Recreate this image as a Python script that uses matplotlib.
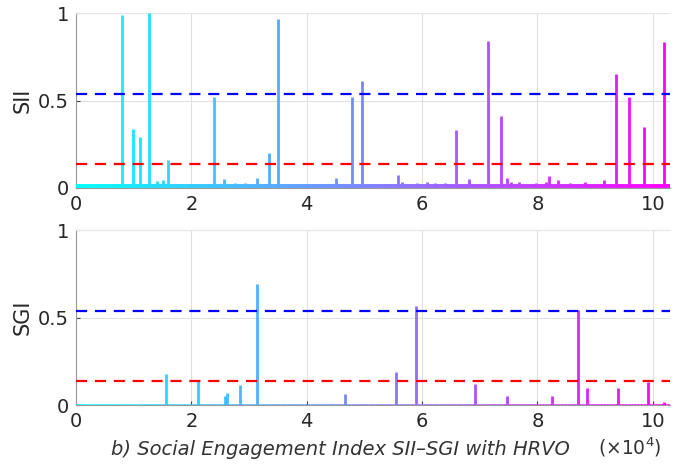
import numpy as np
import matplotlib
matplotlib.use("Agg")
import matplotlib.pyplot as plt
from matplotlib.collections import LineCollection

plt.rcParams['font.family'] = ['DejaVu Sans']

# ---- data (x in units of 1e4) ----
x_max = 10.3
sii_x = [0.795, 0.98, 1.106, 1.262, 1.41, 1.50, 1.588, 2.388, 2.566, 2.75, 2.93, 3.143,
         3.351, 3.50, 4.50, 4.783, 4.967, 5.574, 5.65, 5.79, 5.91, 6.09, 6.22, 6.40,
         6.595, 6.81, 7.15, 7.375, 7.48, 7.54, 7.675, 7.98, 8.15, 8.206, 8.355, 8.56,
         8.82, 9.16, 9.366, 9.58, 9.84, 10.20]
sii_y = [0.99, 0.34, 0.29, 1.0, 0.04, 0.045, 0.16, 0.52, 0.05, 0.03, 0.03, 0.06,
         0.20, 0.97, 0.06, 0.52, 0.61, 0.074, 0.035, 0.025, 0.03, 0.035, 0.03, 0.03,
         0.33, 0.05, 0.84, 0.41, 0.06, 0.035, 0.035, 0.03, 0.035, 0.07, 0.045, 0.03,
         0.035, 0.045, 0.65, 0.52, 0.35, 0.835]
sii_base = 0.01

sgi_x = [1.562, 2.11, 2.59, 2.62, 2.85, 3.143, 4.67, 5.545, 5.90, 6.91, 7.48, 8.26,
         8.70, 8.864, 9.394, 9.914, 10.19]
sgi_y = [0.18, 0.14, 0.05, 0.07, 0.114, 0.69, 0.063, 0.187, 0.567, 0.122, 0.05, 0.05,
         0.543, 0.10, 0.10, 0.13, 0.02]
sgi_base = 0.0

thr_high = 0.54
thr_low = 0.137

xticks = [0, 2, 4, 6, 8, 10]
yticks = [0, 0.5, 1]
ytick_labels = ['0', '0.5', '1']

cmap = plt.get_cmap('cool')

fig = plt.figure(figsize=(6.81, 4.66), dpi=100)
ax1 = fig.add_axes([0.1116, 0.5966, 0.8724, 0.3749])
ax2 = fig.add_axes([0.1116, 0.1309, 0.8724, 0.3755])


def draw(ax, xs, ys, base, label, base_lw):
    # gradient baseline
    xb = np.linspace(0, x_max, 400)
    pts = np.column_stack([xb, np.full_like(xb, base)])
    segs = np.stack([pts[:-1], pts[1:]], axis=1)
    lc = LineCollection(segs, colors=cmap(xb[:-1] / x_max), linewidths=base_lw,
                        capstyle='butt', zorder=3)
    ax.add_collection(lc)
    xs = np.asarray(xs)
    ax.vlines(xs, base, ys, colors=cmap(xs / x_max), linewidth=2.0, zorder=3)
    ax.axhline(thr_high, color=(0, 0, 1), ls=(0, (5, 3.5)), lw=1.6, zorder=4)
    ax.axhline(thr_low, color=(1, 0, 0), ls=(0, (5, 3.5)), lw=1.6, zorder=4)
    ax.set_xlim(0, x_max)
    ax.set_ylim(0, 1)
    ax.set_xticks(xticks)
    ax.set_xticklabels([str(t) for t in xticks])
    ax.set_yticks(yticks)
    ax.set_yticklabels(ytick_labels)
    ax.grid(True, color=(0.88, 0.88, 0.88), lw=0.8, zorder=0)
    ax.set_axisbelow(True)
    ax.tick_params(direction='in', length=3, width=0.8, colors=(0.25, 0.25, 0.25),
                   labelsize=14, labelcolor=(0.15, 0.15, 0.15), pad=5)
    for s in ['top', 'right']:
        ax.spines[s].set_color((0.9, 0.9, 0.9))
        ax.spines[s].set_linewidth(0.8)
    ax.spines['right'].set_visible(False)
    ax.spines['left'].set_color((0.6, 0.6, 0.6))
    ax.spines['bottom'].set_color((0.6, 0.6, 0.6))
    ax.set_ylabel(label, fontsize=15, color=(0.15, 0.15, 0.15), labelpad=4)


draw(ax1, sii_x, sii_y, sii_base, 'SII', 2.8)
draw(ax2, sgi_x, sgi_y, sgi_base, 'SGI', 2.0)

fig.text(0.5, 0.036, 'b) Social Engagement Index SII\u2013SGI with HRVO', style='italic',
         fontsize=14, color=(0.2, 0.2, 0.2), ha='center', va='center')
fig.text(0.925, 0.040, r'($\times$10$^4$)', fontsize=13.5, color=(0.2, 0.2, 0.2),
         ha='center', va='center')

fig.savefig('out.png', dpi=100)
